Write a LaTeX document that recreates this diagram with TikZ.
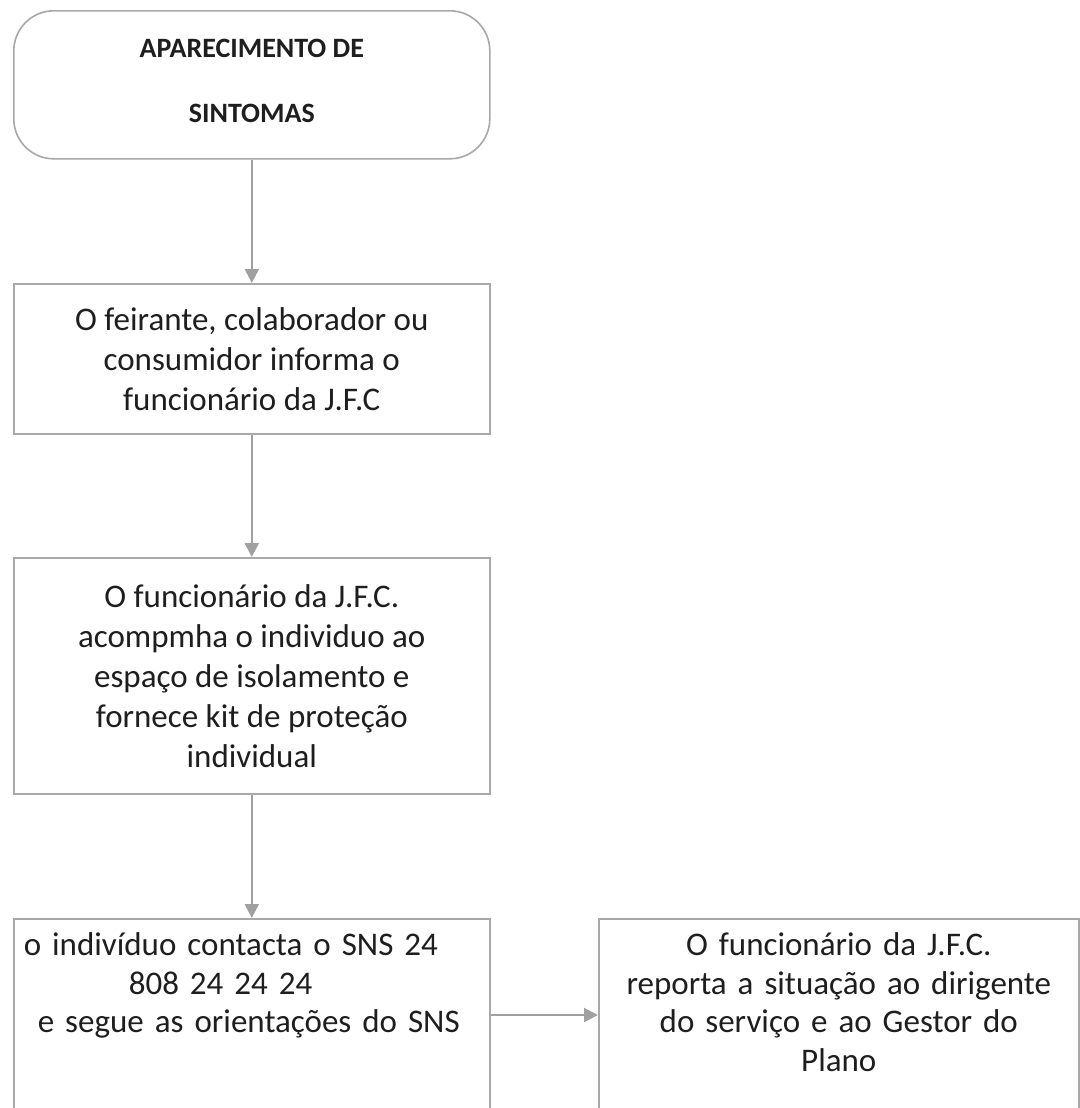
\documentclass[tikz,border=0pt]{standalone}
\usepackage{fontspec}
\setmainfont{Carlito}
\usetikzlibrary{arrows.meta}

\definecolor{framegray}{HTML}{A8A8A8}
\definecolor{arrowgray}{HTML}{A0A0A0}
\definecolor{inkgray}{HTML}{1E1E1E}

\tikzset{
  stepbox/.style={draw=framegray, line width=0.8pt, anchor=north west, align=center,
    inner xsep=5pt, inner ysep=0pt, text=inkgray, font=\fontsize{16.5}{20}\selectfont},
  startbox/.style={stepbox, rounded corners=20pt, text depth=4pt,
    font=\bfseries\fontsize{14}{32.5}\selectfont},
  openbox/.style={stepbox, inner ysep=8pt, text height=10.5pt, text depth=120pt,
    font=\fontsize{16.5}{19.2}\selectfont},
  flow/.style={draw=arrowgray, line width=1pt, -{Triangle[width=7pt,length=7pt]}},
}

\begin{document}
\begin{tikzpicture}[x=0.5pt, y=-0.5pt]
            \useasboundingbox (0,0) rectangle (1080,1108);
            \fill[white] (0,0) rectangle (1080,1108);
            \clip (0,0) rectangle (1080,1108);

            \node[startbox, minimum width=238pt, minimum height=74pt] (start) at (13,10) {APARECIMENTO DE\\SINTOMAS};
            \node[stepbox, minimum width=238pt, minimum height=75pt] (inform) at (13,283)
                {O feirante, colaborador ou\\consumidor informa o\\funcionário da J.F.C};
            \node[stepbox, minimum width=238pt, minimum height=118pt] (isolate) at (13,557)
                {O funcionário da J.F.C.\\acompmha o individuo ao\\espaço de isolamento e\\fornece kit de proteção\\individual};
            \node[openbox, align=left, text width=228pt] (contact) at (13,918)
                {o indivíduo contacta o SNS 24\\\hspace*{52.5pt}808 24 24 24\\\hspace*{7pt}e segue as orientações do SNS};
            \node[openbox, text width=230pt] (report) at (598,918)
                {O funcionário da J.F.C.\\reporta a situação ao dirigente\\do serviço e ao Gestor do\\Plano};

            \coordinate (link) at (0,1015);
            \draw[flow] (start.south) -- (inform.north);
            \draw[flow] (inform.south) -- (isolate.north);
            \draw[flow] (isolate.south) -- (contact.north);
            \draw[flow] (contact.east |- link) -- (report.west |- link);
        \end{tikzpicture}
\end{document}
